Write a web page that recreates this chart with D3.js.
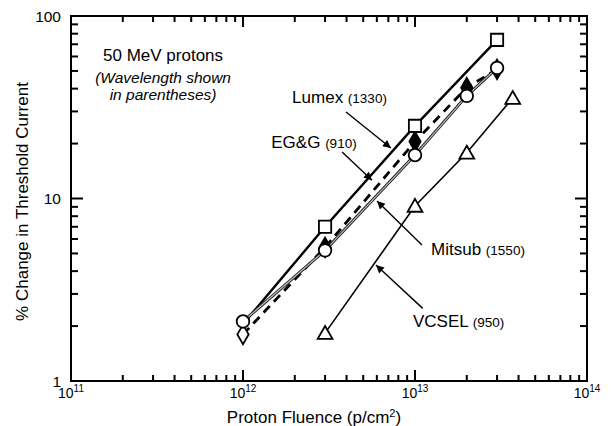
<!DOCTYPE html>
<html>
<head>
<meta charset="utf-8">
<script src="https://cdn.jsdelivr.net/npm/d3@7"></script>
<style>
  html, body { margin: 0; padding: 0; background: #fff; }
  svg { display: block; font-family: "Liberation Sans", Arial, Helvetica, sans-serif; }
</style>
</head>
<body>
<svg id="chart" width="611" height="426"></svg>
<script>
// ---------------- data ----------------
const lumexX  = [1e12, 3e12, 1e13, 3e13];
const lumexY  = [2.05, 7.0, 25.0, 74];
const eggX    = [1e12, 3e12, 1e13, 2e13, 3e13];
const eggY    = [1.8, 5.4, 20.5, 40.5, 51];
const mitsubX = [1e12, 3e12, 1e13, 2e13, 3e13];
const mitsubY = [2.12, 5.2, 17.3, 36.5, 52];
const vcselX  = [3e12, 1e13, 2e13, 3.7e13];
const vcselY  = [1.83, 9.1, 17.8, 35.5];

const xMajor = [1e11, 1e12, 1e13, 1e14];
const xMajorExp = ["11", "12", "13", "14"];
const yMajor = [1, 10, 100];
const yMajorLabels = ["1", "10", "100"];

const seriesNames = ["Lumex", "EG&G", "Mitsub", "VCSEL"];
const seriesWaves = ["(1330)", "(910)", "(1550)", "(950)"];
// label anchor positions (data coords) and arrow [start, end] (data coords)
const labelX = [1.93e12, 1.46e12, 1.24e13, 9.73e12];
const labelY = [33.4, 19.0, 4.9, 1.98];
const arrowX0 = [3.97e12, 3.77e12, 1.098e13, 1.109e13];
const arrowY0 = [29.8, 18.0, 5.56, 2.50];
const arrowX1 = [7.24e12, 5.62e12, 6.01e12, 5.93e12];
const arrowY1 = [18.9, 12.6, 9.69, 4.32];

const noteLines = ["50 MeV protons", "(Wavelength shown", "in parentheses)"];
const noteX = 3.43e11;
const noteY = [56.7, 42.9, 34.7];

// ---------------- layout ----------------
const svg = d3.select("#chart");
const L = 71, R = 587, T = 16, B = 381;
const x = d3.scaleLog().domain([1e11, 1e14]).range([L, R]);
const y = d3.scaleLog().domain([1, 100]).range([B, T]);

// frame
svg.append("rect").attr("x", L).attr("y", T).attr("width", R - L).attr("height", B - T)
  .attr("fill", "none").attr("stroke", "#000").attr("stroke-width", 2);

// minor ticks
const xMinor = [];
[1e11, 1e12, 1e13].forEach(d => { for (let k = 2; k <= 9; k++) xMinor.push(d * k); });
const yMinor = [];
[1, 10].forEach(d => { for (let k = 2; k <= 9; k++) yMinor.push(d * k); });

function tick(x1, y1, x2, y2) {
  svg.append("line").attr("x1", x1).attr("y1", y1).attr("x2", x2).attr("y2", y2)
    .attr("stroke", "#000").attr("stroke-width", 2);
}
xMajor.forEach(v => { tick(x(v), B, x(v), B - 11); tick(x(v), T, x(v), T + 11); });
xMinor.forEach(v => { tick(x(v), B, x(v), B - 6); tick(x(v), T, x(v), T + 6); });
yMajor.forEach(v => { tick(L, y(v), L + 12, y(v)); tick(R, y(v), R - 12, y(v)); });
yMinor.forEach(v => { tick(L, y(v), L + 7, y(v)); tick(R, y(v), R - 7, y(v)); });

// tick labels
const xl = svg.append("g").attr("font-size", 14).attr("fill", "#000");
xMajor.forEach((v, i) => {
  const t = xl.append("text").attr("x", x(v)).attr("y", 398).attr("text-anchor", "middle");
  t.append("tspan").text("10");
  t.append("tspan").attr("font-size", 10).attr("dy", -6).text(xMajorExp[i]);
});
svg.append("g").selectAll("text").data(yMajor).join("text")
  .attr("x", 61).attr("y", d => y(d)).attr("dy", "0.36em")
  .attr("text-anchor", "end").attr("font-size", 15.5)
  .text((d, i) => yMajorLabels[i]);

// axis titles
const xt = svg.append("text").attr("x", 314).attr("y", 423).attr("text-anchor", "middle").attr("font-size", 17);
xt.append("tspan").text("Proton Fluence (p/cm");
xt.append("tspan").attr("font-size", 11).attr("dy", -6).text("2");
xt.append("tspan").attr("dy", 6).text(")");
svg.append("text").attr("transform", `translate(28,${(T + B) / 2 + 3}) rotate(-90)`)
  .attr("text-anchor", "middle").attr("font-size", 17).text("% Change in Threshold Current");

// ---------------- series ----------------
const line = d3.line().x(d => x(d[0])).y(d => y(d[1]));
const zip = (a, b) => a.map((v, i) => [v, b[i]]);

const lumex = zip(lumexX, lumexY), egg = zip(eggX, eggY), mitsub = zip(mitsubX, mitsubY), vcsel = zip(vcselX, vcselY);

svg.append("path").datum(vcsel).attr("d", line).attr("fill", "none").attr("stroke", "#000").attr("stroke-width", 1.6);
svg.append("path").datum(lumex).attr("d", line).attr("fill", "none").attr("stroke", "#000").attr("stroke-width", 2.4);
svg.append("path").datum(egg).attr("d", line).attr("fill", "none").attr("stroke", "#000").attr("stroke-width", 2.8).attr("stroke-dasharray", "9,6");
svg.append("path").datum(mitsub).attr("d", line).attr("fill", "none").attr("stroke", "#222").attr("stroke-width", 3);
svg.append("path").datum(mitsub).attr("d", line).attr("fill", "none").attr("stroke", "#bbb").attr("stroke-width", 1.2);

// markers
const sq = d3.symbol().type(d3.symbolSquare).size(150);
const di = d3.symbol().type(d3.symbolDiamond).size(110);
const tri = d3.symbol().type(d3.symbolTriangle).size(95);

// EG&G diamonds (first open, others filled)
svg.append("g").selectAll("path").data(egg).join("path")
  .attr("d", di).attr("transform", d => `translate(${x(d[0])},${y(d[1])})`)
  .attr("fill", (d, i) => i === 0 ? "#fff" : "#000").attr("stroke", "#000").attr("stroke-width", 1.8);
// Lumex squares (first point hidden under Mitsub circle)
svg.append("g").selectAll("path").data(lumex.slice(1)).join("path")
  .attr("d", sq).attr("transform", d => `translate(${x(d[0])},${y(d[1])})`)
  .attr("fill", "#fff").attr("stroke", "#000").attr("stroke-width", 1.8);
// Mitsub circles
svg.append("g").selectAll("circle").data(mitsub).join("circle")
  .attr("cx", d => x(d[0])).attr("cy", d => y(d[1])).attr("r", 6.3)
  .attr("fill", "#fff").attr("stroke", "#000").attr("stroke-width", 1.8);
// VCSEL triangles
svg.append("g").selectAll("path").data(vcsel).join("path")
  .attr("d", tri).attr("transform", d => `translate(${x(d[0])},${y(d[1]) + 1.5})`)
  .attr("fill", "#fff").attr("stroke", "#000").attr("stroke-width", 1.8);

// ---------------- annotations ----------------
svg.append("defs").append("marker").attr("id", "ah")
  .attr("viewBox", "0 0 10 10").attr("refX", 10).attr("refY", 5)
  .attr("markerWidth", 10).attr("markerHeight", 8).attr("markerUnits", "userSpaceOnUse")
  .attr("orient", "auto")
  .append("path").attr("d", "M0,0 L10,5 L0,10 Z").attr("fill", "#000");

seriesNames.forEach((n, i) => {
  svg.append("line")
    .attr("x1", x(arrowX0[i])).attr("y1", y(arrowY0[i]))
    .attr("x2", x(arrowX1[i])).attr("y2", y(arrowY1[i]))
    .attr("stroke", "#000").attr("stroke-width", 1.4).attr("marker-end", "url(#ah)");
  const t = svg.append("text").attr("x", x(labelX[i])).attr("y", y(labelY[i])).attr("font-size", 17);
  t.append("tspan").text(n + " ");
  t.append("tspan").attr("font-size", 13.5).text(seriesWaves[i]);
});

// note text
svg.append("g").selectAll("text").data(noteLines).join("text")
  .attr("x", x(noteX)).attr("y", (d, i) => y(noteY[i]))
  .attr("text-anchor", "middle")
  .attr("font-size", (d, i) => i === 0 ? 17 : 15.5)
  .attr("font-style", (d, i) => i === 0 ? "normal" : "italic")
  .text(d => d);
</script>
</body>
</html>
